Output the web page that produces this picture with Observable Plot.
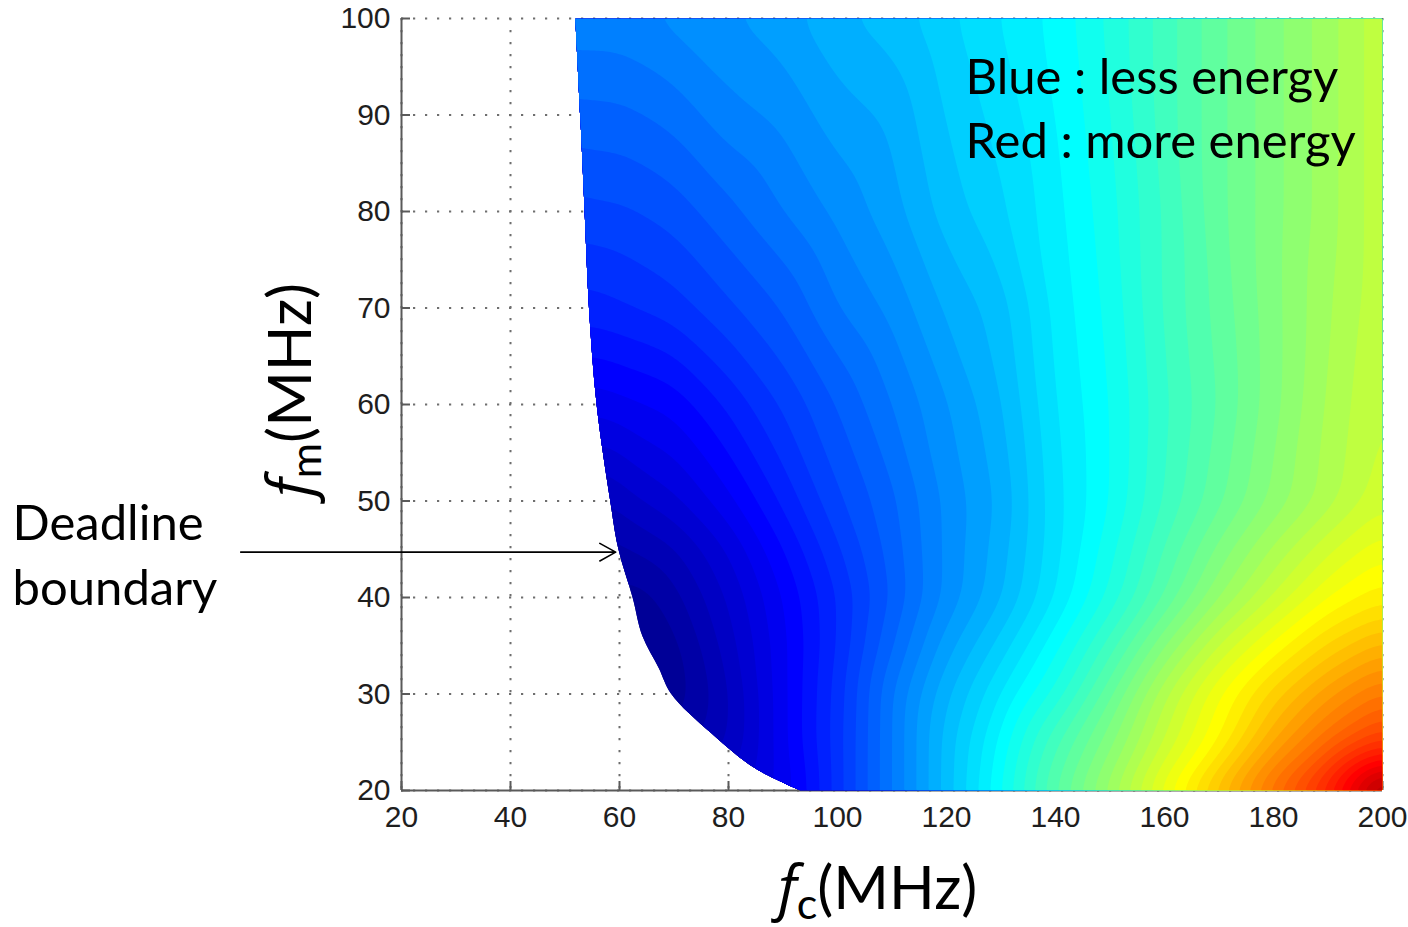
<!DOCTYPE html>
<html>
<head>
<meta charset="utf-8">
<script src="https://cdn.jsdelivr.net/npm/d3@7"></script>
<script src="https://cdn.jsdelivr.net/npm/@observablehq/plot@0.6"></script>
<style>
  html, body { margin: 0; padding: 0; background: #fff; }
  #chart { width: 1408px; height: 927px; }
</style>
</head>
<body>
<div id="chart"></div>
<script>
// Axis ticks (MHz)
const xTicks = [20, 40, 60, 80, 100, 120, 140, 160, 180, 200];
const yTicks = [20, 30, 40, 50, 60, 70, 80, 90, 100];

// Sampled energy (normalised 0..1) on a grid of core frequency fc (columns)
// and memory frequency fm (rows); null = infeasible (misses the deadline).
const fcCols = [60, 70, 80, 90, 100, 110, 120, 130, 140, 150, 160, 170, 180, 190, 200];
const fmRows = [100, 90, 80, 70, 60, 50, 45, 40, 35, 30, 25, 20];
const energyRows = [
  [0.26, 0.27, 0.28, 0.29, 0.31, 0.32, 0.34, 0.36, 0.38, 0.41, 0.445, 0.48, 0.51, 0.54, 0.575],
  [0.23, 0.24, 0.26, 0.27, 0.29, 0.30, 0.33, 0.35, 0.375, 0.405, 0.445, 0.48, 0.51, 0.54, 0.575],
  [0.20, 0.21, 0.23, 0.25, 0.27, 0.29, 0.32, 0.34, 0.37, 0.40, 0.44, 0.48, 0.51, 0.54, 0.575],
  [0.17, 0.18, 0.20, 0.22, 0.25, 0.27, 0.30, 0.32, 0.365, 0.395, 0.44, 0.475, 0.51, 0.545, 0.575],
  [0.12, 0.13, 0.16, 0.19, 0.22, 0.25, 0.28, 0.31, 0.36, 0.39, 0.435, 0.47, 0.51, 0.55, 0.58],
  [0.07, 0.09, 0.12, 0.16, 0.20, 0.23, 0.27, 0.30, 0.355, 0.39, 0.44, 0.48, 0.52, 0.555, 0.59],
  [0.045, 0.06, 0.095, 0.14, 0.185, 0.225, 0.27, 0.305, 0.355, 0.40, 0.455, 0.505, 0.55, 0.59, 0.62],
  [null, 0.04, 0.08, 0.125, 0.172, 0.22, 0.27, 0.31, 0.36, 0.41, 0.47, 0.53, 0.58, 0.625, 0.65],
  [null, 0.025, 0.07, 0.12, 0.172, 0.232, 0.29, 0.335, 0.385, 0.445, 0.515, 0.58, 0.63, 0.675, 0.71],
  [null, 0.02, 0.06, 0.12, 0.178, 0.25, 0.31, 0.36, 0.41, 0.48, 0.56, 0.625, 0.68, 0.73, 0.77],
  [null, null, 0.06, 0.12, 0.18, 0.25, 0.32, 0.38, 0.45, 0.51, 0.58, 0.64, 0.72, 0.78, 0.83],
  [null, null, null, null, 0.18, 0.25, 0.32, 0.39, 0.47, 0.54, 0.62, 0.70, 0.78, 0.86, 1.0]
];

// Extra readings near the high-energy corner (fc, fm, energy)
const cornerFc = [195, 200, 200];
const cornerFm = [20, 21, 22.5];
const cornerEnergy = [0.92, 0.97, 0.9];

// Deadline boundary: smallest feasible fc for each fm, and the energy there
const boundaryFm = [20, 22.4, 26, 30, 32.7, 36, 40, 45, 50, 60, 70, 80, 90, 100];
const boundaryFc = [93.2, 84.6, 76.7, 69.5, 67.2, 64.2, 62.4, 59.8, 58.3, 55.8, 54.4, 53.6, 52.8, 51.9];
const boundaryEnergy = [0.13, 0.09, 0.05, 0.02, 0.015, 0.015, 0.02, 0.04, 0.06, 0.115, 0.165, 0.20, 0.23, 0.26];

// Annotations
const legendLines = ["Blue : less energy", "Red : more energy"];
const boundaryLabel = ["Deadline", "boundary"];
const boundaryArrow = [{fm: 44.7, fromFc: -9.5, toFc: 59.3}];

// Jet colour map stops
const jetStops = [0, 0.125, 0.375, 0.625, 0.875, 1];
const jetColors = ["#000088", "#0000ff", "#00ffff", "#ffff00", "#ff0000", "#800000"];

const xDomain = [20, 200];
const yDomain = [20, 100];

const samples = [];
fmRows.forEach((fm, i) => energyRows[i].forEach((v, j) => {
  if (v != null) samples.push({fc: fcCols[j], fm, v});
}));
boundaryFm.forEach((fm, i) => samples.push({fc: boundaryFc[i], fm, v: boundaryEnergy[i]}));
cornerFc.forEach((fc, i) => samples.push({fc, fm: cornerFm[i], v: cornerEnergy[i]}));
const boundary = boundaryFm.map((fm, i) => ({fm, fc: boundaryFc[i]}));

const levels = d3.range(0, 1, 1 / 64);
const axisColor = "#5a5a5a";
const tickFont = "'Liberation Sans', Arial, sans-serif";
const labelFont = "Lato, 'Open Sans', sans-serif";
const gridStyle = {stroke: "#6e6e6e", strokeOpacity: 1, strokeWidth: 2, strokeDasharray: "2.2,9.8"};

const svg = Plot.plot({
  width: 1408,
  height: 927,
  marginLeft: 401,
  marginRight: 26,
  marginTop: 18,
  marginBottom: 137,
  style: {fontFamily: tickFont, fontSize: "30px", color: "#1e1e1e", background: "#fff"},
  x: {domain: xDomain},
  y: {domain: yDomain},
  color: {type: "linear", domain: jetStops, range: jetColors, interpolate: "rgb", clamp: true},
  marks: [
    Plot.gridX({ticks: xTicks, ...gridStyle}),
    Plot.gridY({ticks: yTicks, ...gridStyle}),
    Plot.ruleX([xDomain[0]], {stroke: axisColor, strokeWidth: 2}),
    Plot.ruleY([yDomain[0]], {stroke: axisColor, strokeWidth: 2}),
    // inward tick marks
    Plot.axisX({ticks: xTicks, tickSize: -9, tickFormat: () => "", label: null, stroke: axisColor, strokeWidth: 2}),
    Plot.axisY({ticks: yTicks, tickSize: -9, tickFormat: () => "", label: null, stroke: axisColor, strokeWidth: 2}),
    // tick labels
    Plot.axisX({ticks: xTicks, tickSize: 0, tickPadding: 15, label: null, fontSize: 30, fontFamily: tickFont, fill: "#1e1e1e"}),
    Plot.axisY({ticks: yTicks, tickSize: 0, tickPadding: 11, label: null, fontSize: 30, fontFamily: tickFont, fill: "#1e1e1e"}),
    // feasible region (right of the deadline boundary), used to clip the contours
    Plot.areaX(boundary, {x1: "fc", x2: xDomain[1], y: "fm", curve: "catmull-rom", fill: "#000"}),
    Plot.contour(samples, {
      x: "fc", y: "fm", fill: "v",
      interpolate: "barycentric",
      blur: 7,
      thresholds: levels
    }),
    Plot.text([legendLines.join("\n")], {
      frameAnchor: "top-left", textAnchor: "start", lineAnchor: "top",
      dx: 564, dy: 31, fontSize: 49, lineHeight: 1.29,
      fontFamily: labelFont, fill: "#000"
    }),
    Plot.text([boundaryLabel.join("\n")], {
      frameAnchor: "top-left", textAnchor: "start", lineAnchor: "top",
      dx: -389, dy: 475, fontSize: 49, lineHeight: 1.33,
      fontFamily: labelFont, fill: "#000"
    }),
    Plot.arrow(boundaryArrow, {
      x1: "fromFc", x2: "toFc", y1: "fm", y2: "fm",
      stroke: "#000", strokeWidth: 1.6, headLength: 17, headAngle: 58
    })
  ]
});

// Clip the filled contours to the feasible region.
const ns = "http://www.w3.org/2000/svg";
const areaG = svg.querySelector('g[aria-label="area"]');
const contourG = svg.querySelector('g[aria-label="contour"]');
const defs = document.createElementNS(ns, "defs");
const clip = document.createElementNS(ns, "clipPath");
clip.setAttribute("id", "feasible-region");
areaG.querySelectorAll("path").forEach((p) => {
  const c = p.cloneNode(true);
  const t = areaG.getAttribute("transform");
  if (t) c.setAttribute("transform", t);
  clip.appendChild(c);
});
defs.appendChild(clip);
svg.insertBefore(defs, svg.firstChild);
areaG.remove();
contourG.setAttribute("clip-path", "url(#feasible-region)");

// Axis titles with italic symbol and subscript
const s = d3.select(svg);
const xl = s.append("text")
  .attr("x", 778).attr("y", 909).attr("text-anchor", "start")
  .attr("font-family", labelFont).attr("font-size", 60).attr("fill", "#000");
xl.append("tspan").attr("font-family", "'Open Sans', sans-serif").attr("font-style", "italic").text("f");
xl.append("tspan").attr("font-size", 43).attr("dy", 10).text("c");
xl.append("tspan").attr("dy", -10).text("(MHz)");

const yl = s.append("text")
  .attr("transform", "translate(311,497) rotate(-90)").attr("text-anchor", "start")
  .attr("font-family", labelFont).attr("font-size", 60).attr("fill", "#000");
yl.append("tspan").attr("font-family", "'Open Sans', sans-serif").attr("font-style", "italic").text("f");
yl.append("tspan").attr("font-size", 43).attr("dy", 10).text("m");
yl.append("tspan").attr("dy", -10).text("(MHz)");

document.getElementById("chart").appendChild(svg);
</script>
</body>
</html>
